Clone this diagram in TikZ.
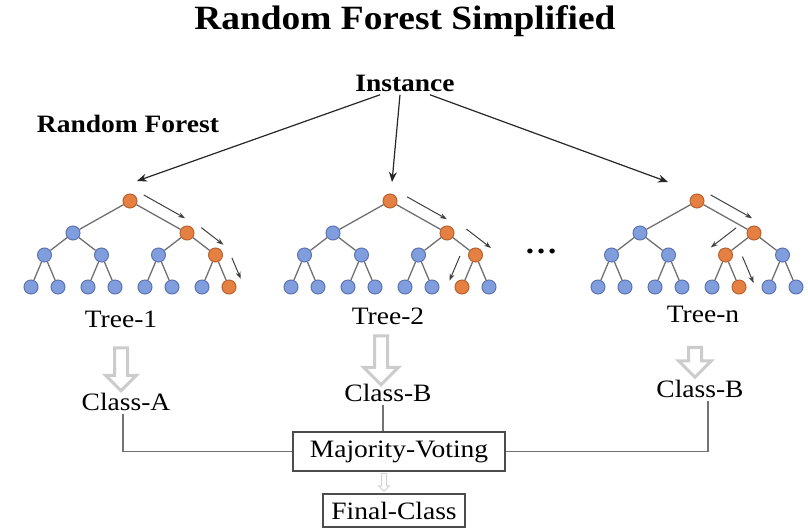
\documentclass[tikz,border=0pt]{standalone}
\usepackage{fontspec}
\setmainfont{Liberation Serif}[FakeStretch=1.1]
\usepackage{tikz}
\usetikzlibrary{arrows.meta,calc,shapes.arrows}

\definecolor{nodeblue}{RGB}{128,158,222}
\definecolor{nodeblueline}{RGB}{92,116,178}
\definecolor{nodeorange}{RGB}{228,128,66}
\definecolor{nodeorangeline}{RGB}{188,96,46}
\definecolor{edgegray}{RGB}{112,112,112}

\begin{document}
\begin{tikzpicture}[x=1pt,y=-1pt,
  blue node/.style={circle,fill=nodeblue,draw=nodeblueline,line width=1pt,minimum size=14pt,inner sep=0pt},
  orange node/.style={blue node,fill=nodeorange,draw=nodeorangeline},
  every child node/.style={blue node},
  edge from parent/.style={draw=edgegray,line width=1.3pt},
  level 1/.style={sibling distance=114pt,level distance=32pt},
  level 2/.style={sibling distance=57pt,level distance=22pt},
  level 3/.style={sibling distance=27pt,level distance=32pt},
  path arrow/.style={-{Stealth[length=7pt,width=5pt]},draw=black!75,line width=1pt},
  main arrow/.style={-{Stealth[length=10pt,width=8pt]},draw=black!85,line width=1.2pt},
  big arrow/.style={single arrow,rotate=-90,draw=gray!40,line width=3pt,fill=white,inner sep=5pt,single arrow head extend=9pt},
  text node/.style={anchor=base,font=\fontsize{25}{28}\selectfont},
  head node/.style={anchor=base,font=\fontsize{25}{28}\selectfont\bfseries},
  box node/.style={draw=black!70,line width=1.2pt,inner sep=2pt,font=\fontsize{25}{28}\selectfont},
  vote line/.style={draw=black!55,line width=1.2pt}]

  \useasboundingbox (0,0) rectangle (808,531);

  \node[anchor=base,font=\fontsize{34}{38}\selectfont\bfseries] (title) at (405,29) {Random Forest Simplified};
  \node[head node] (inst) at (405,91) {Instance};
  \node[head node] (rf) at (128,132) {Random Forest};

  % the three trees
  \node[orange node] (t1) at (130,201) {}
    child {node {}
      child {node {} child {node {}} child {node {}}}
      child {node {} child {node {}} child {node {}}}}
    child {node[orange node] {}
      child {node {} child {node {}} child {node {}}}
      child {node[orange node] {} child {node {}} child {node[orange node] {}}}};

  \node[orange node] (t2) at (390,201) {}
    child {node {}
      child {node {} child {node {}} child {node {}}}
      child {node {} child {node {}} child {node {}}}}
    child {node[orange node] {}
      child {node {} child {node {}} child {node {}}}
      child {node[orange node] {} child {node[orange node] {}} child {node {}}}};

  \node[orange node] (tn) at (697,201) {}
    child {node {}
      child {node {} child {node {}} child {node {}}}
      child {node {} child {node {}} child {node {}}}}
    child {node[orange node] {}
      child {node[orange node] {} child {node {}} child {node[orange node] {}}}
      child {node {} child {node {}} child {node {}}}};

  \node[anchor=base,font=\fontsize{30}{32}\selectfont\bfseries] (dots) at (541,253) {\ldots};

  % decision path
  \draw[path arrow,shorten <=9pt,shorten >=9pt] ($(t1)!12pt!90:(t1-2)$) -- ($(t1-2)!12pt!-90:(t1)$);
  \draw[path arrow,shorten <=8pt,shorten >=0pt] ($(t1-2)!13pt!90:(t1-2-2)$) -- ($(t1-2-2)!13pt!-90:(t1-2)$);
  \draw[path arrow,shorten <=9pt,shorten >=3pt] ($(t1-2-2)!14pt!90:(t1-2-2-2)$) -- ($(t1-2-2-2)!14pt!-90:(t1-2-2)$);

  \draw[path arrow,shorten <=13pt,shorten >=7pt] ($(t2)!12pt!90:(t2-2)$) -- ($(t2-2)!12pt!-90:(t2)$);
  \draw[path arrow,shorten <=13pt,shorten >=-8pt] ($(t2-2)!15pt!90:(t2-2-2)$) -- ($(t2-2-2)!15pt!-90:(t2-2)$);
  \draw[path arrow,shorten <=7pt,shorten >=1pt] ($(t2-2-2)!14pt!-90:(t2-2-2-1)$) -- ($(t2-2-2-1)!14pt!90:(t2-2-2)$);

  \draw[path arrow,shorten <=9pt,shorten >=9pt] ($(tn)!12pt!90:(tn-2)$) -- ($(tn-2)!12pt!-90:(tn)$);
  \draw[path arrow,shorten <=11pt,shorten >=-7pt] ($(tn-2)!15pt!-90:(tn-2-1)$) -- ($(tn-2-1)!15pt!90:(tn-2)$);
  \draw[path arrow,shorten <=8pt,shorten >=-2pt] ($(tn-2-1)!15pt!90:(tn-2-1-2)$) -- ($(tn-2-1-2)!15pt!-90:(tn-2-1)$);

  % instance to trees
  \draw[main arrow] ([xshift=-25pt]inst.south) -- ([xshift=7pt,yshift=20pt]t1.center);
  \draw[main arrow] ([xshift=-5pt]inst.south) -- ([xshift=2pt,yshift=19pt]t2.center);
  \draw[main arrow] ([xshift=25pt]inst.south) -- ([xshift=-29pt,yshift=19pt]tn.center);

  \node[text node] (tree1) at (121,327) {Tree-1};
  \node[text node] (tree2) at (388,324) {Tree-2};
  \node[text node] (treen) at (703,322) {Tree-n};

  \node[big arrow,minimum height=43pt] (a1) at (121,366) {};
  \node[big arrow,minimum height=49pt,single arrow head extend=11pt] (a2) at (381,357) {};
  \node[big arrow,minimum height=30pt,single arrow head extend=10pt] (an) at (695,359) {};

  \node[text node] (ca) at (126,410) {Class-A};
  \node[text node] (cb) at (388,401) {Class-B};
  \node[text node] (cn) at (700,397) {Class-B};

  \node[box node,minimum width=212pt,minimum height=39pt] (mv) at (399,451.5) {Majority-Voting};
  \node[box node,minimum width=142pt,minimum height=33pt] (fc) at (394,510.5) {Final-Class};
  \node[single arrow,rotate=-90,draw=gray!35,line width=1pt,fill=white,minimum height=18pt,inner sep=2pt,single arrow head extend=3pt] (va) at (384,481) {};

  \draw[vote line] ([xshift=-3pt]ca.south) |- (mv.west);
  \draw[vote line] ([xshift=-5pt]cb.south) -- ([xshift=-5pt]cb.south |- mv.north);
  \draw[vote line] ([xshift=8pt]cn.south) |- (mv.east);

\end{tikzpicture}
\end{document}
